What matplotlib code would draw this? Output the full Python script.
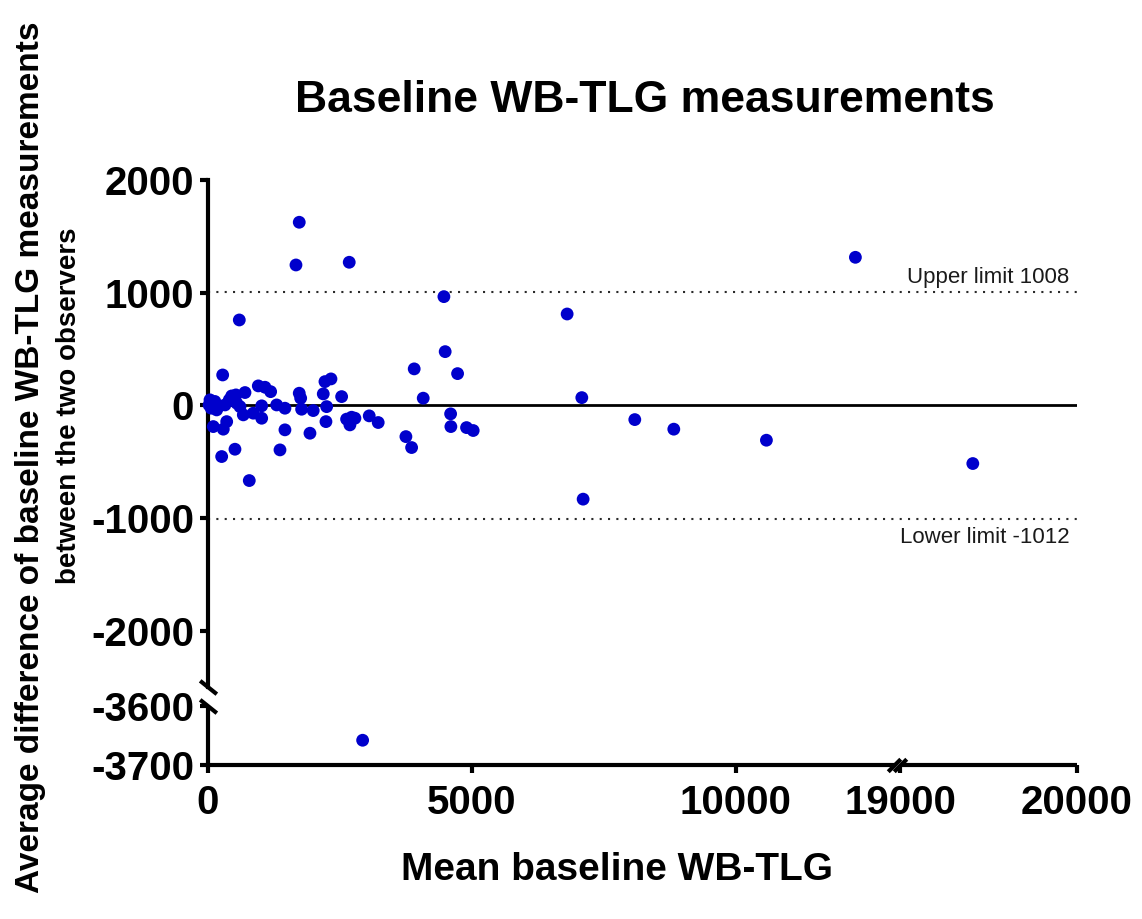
import numpy as np
import matplotlib
matplotlib.use('Agg')
import matplotlib.pyplot as plt

plt.rcParams['font.family'] = ['Liberation Sans', 'DejaVu Sans']

# Bland-Altman data: mean of the two observers vs. difference
mean_tlg = [
    278, 953, 1080, 1187, 701, 449, 530, 403, 38, 100, 20, 195, 164, 322, 543, 606,
    1017, 1301, 1458, 669, 858, 1017, 354, 100, 290, 1458, 511, 1364, 259, 782, 593,
    60, 130,
    2216, 2330, 1729, 1756, 2184, 2532, 1774, 1994, 2248, 2235, 1932, 2626, 2721,
    2784, 2689, 3055, 3225,
    4078, 3750, 3858, 4597, 4602, 4899, 5025,
    4470, 6805, 4494, 3907, 4729,
    12267, 7083, 8087, 8826, 10581, 19411, 7108,
    1729, 1667, 2676,
    2930,
]
diff_tlg = [
    270, 173, 161, 122, 114, 84, 93, 49, 49, 25, 4, -11, -40, 4, 20, -11,
    -4, 4, -25, -84, -69, -114, -144, -188, -211, -217, -389, -395, -454, -667, 758,
    -25, 35,
    211, 235, 108, 64, 102, 78, -34, -46, -11, -144, -247, -122, -105,
    -114, -173, -93, -152,
    64, -277, -374, -75, -188, -197, -223,
    965, 811, 477, 324, 282,
    1314, 69, -126, -211, -309, -516, -832,
    1625, 1246, 1270,
    -3658,
]
upper_limit = 1008
lower_limit = -1012

x_ticks = [0, 5000, 10000, 19000, 20000]
y_ticks = [-3700, -3600, -2000, -1000, 0, 1000, 2000]

# broken axes: piecewise linear scales
x_break = ([0, 13000, 19000, 20000], [0, 13000, 13114, 16466])
y_break = ([-3700, -3600, -2500, 2000], [-3191, -2668, -2500, 2000])


def piecewise(data_pts, mapped_pts):
    a = np.array(data_pts, float)
    b = np.array(mapped_pts, float)
    s0 = (b[1] - b[0]) / (a[1] - a[0])
    s1 = (b[-1] - b[-2]) / (a[-1] - a[-2])
    big = 1e7
    a_ext = np.concatenate([[a[0] - big], a, [a[-1] + big]])
    b_ext = np.concatenate([[b[0] - big * s0], b, [b[-1] + big * s1]])

    def forward(v):
        return np.interp(v, a_ext, b_ext)

    def inverse(v):
        return np.interp(v, b_ext, a_ext)
    return forward, inverse


fig = plt.figure(figsize=(11.42, 9.19), dpi=100)
ax = fig.add_axes([208 / 1142, 1 - 765 / 919, 869 / 1142, 585 / 919])

ax.set_xscale('function', functions=piecewise(*x_break))
ax.set_yscale('function', functions=piecewise(*y_break))
ax.set_xlim(0, 20000)
ax.set_ylim(-3700, 2000)

ax.axhline(0, color='black', lw=2, zorder=2)
ax.axhline(upper_limit, color='#2a2a2a', lw=1.5, ls=(0, (1, 3)), zorder=2)
ax.axhline(lower_limit, color='#2a2a2a', lw=1.5, ls=(0, (1, 3)), zorder=2)

ax.scatter(mean_tlg, diff_tlg, s=85, color='#0000CC', edgecolors='none',
           zorder=3, clip_on=False)

ax.text(0.991, upper_limit + 80, 'Upper limit %d' % upper_limit,
        transform=ax.get_yaxis_transform(), ha='right', va='baseline',
        fontsize=16, color='#1a1a1a')
ax.text(0.991, lower_limit - 70, 'Lower limit %d' % lower_limit,
        transform=ax.get_yaxis_transform(), ha='right', va='top',
        fontsize=16, color='#1a1a1a')

# spines with gaps
for side in ['top', 'right']:
    ax.spines[side].set_visible(False)
ax.spines['left'].set_linewidth(3)
ax.spines['bottom'].set_linewidth(3)
ax.spines['left'].set_bounds(-2500, 2000)
ax.spines['bottom'].set_bounds(0, 13000)
ax.plot([0, 0], [-3700, -3600], color='black', lw=3, clip_on=False,
        solid_capstyle='butt', zorder=4)
ax.plot([19000, 20000], [-3700, -3700], color='black', lw=3, clip_on=False,
        solid_capstyle='butt', zorder=4)

# break marks
back = [(-1, 0.8), (1, -0.8)]
fwd = [(-1, -1), (1, 1)]
ax.plot([0, 0], [-2500, -3600], ls='none', marker=back, markersize=12,
        markeredgewidth=3, color='black', clip_on=False, zorder=5)
ax.plot([13000, 19000], [-3700, -3700], ls='none', marker=fwd, markersize=9,
        markeredgewidth=3, color='black', clip_on=False, zorder=5)

ax.set_xticks(x_ticks)
ax.set_xticklabels([str(t) for t in x_ticks])
ax.set_yticks(y_ticks)
ax.set_yticklabels([str(t) for t in y_ticks])
ax.tick_params(direction='out', length=6, width=3, labelsize=29)
ax.tick_params(axis='y', pad=4)
ax.tick_params(axis='x', pad=8)
for lbl in ax.get_xticklabels() + ax.get_yticklabels():
    lbl.set_fontweight('bold')
ax.minorticks_off()

fig.text(645 / 1142, 1 - 100 / 919, 'Baseline WB-TLG measurements',
         ha='center', va='center', fontsize=32, fontweight='bold')
fig.text(617 / 1142, 1 - 870 / 919, 'Mean baseline WB-TLG',
         ha='center', va='center', fontsize=28, fontweight='bold')
fig.text(31 / 1142, 1 - 457 / 919,
         'Average difference of baseline WB-TLG measurements',
         rotation=90, ha='center', va='center', fontsize=24, fontweight='bold')
fig.text(69 / 1142, 1 - 406 / 919, 'between the two observers',
         rotation=90, ha='center', va='center', fontsize=20, fontweight='bold')

fig.savefig('out.png', dpi=100)
